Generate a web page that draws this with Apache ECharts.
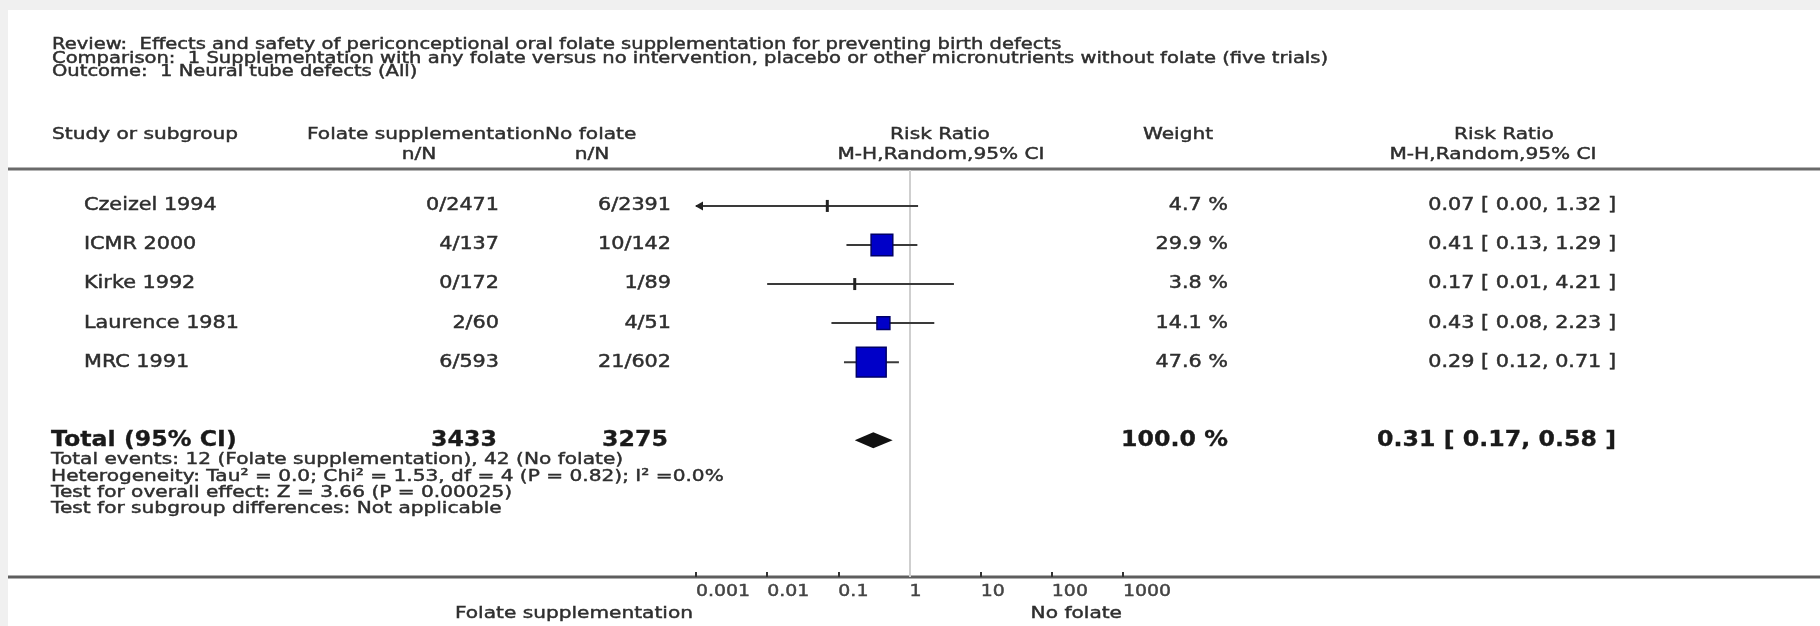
<!DOCTYPE html>
<html><head><meta charset="utf-8">
<script src="https://cdn.jsdelivr.net/npm/echarts@6/dist/echarts.min.js"></script>
<style>
html,body{margin:0;padding:0;background:#f0f0f0;width:1820px;height:626px;overflow:hidden}
#panel{position:absolute;left:8px;top:10px;width:1812px;height:616px;background:#fff}
#chart{position:absolute;left:0;top:0;width:1820px;height:626px}
</style></head><body>
<div id="panel"></div><div id="chart"></div>
<script>
// ---------- data ----------
const studies = ['Czeizel 1994', 'ICMR 2000', 'Kirke 1992', 'Laurence 1981', 'MRC 1991'];
const folateNN = ['0/2471', '4/137', '0/172', '2/60', '6/593'];
const noFolateNN = ['6/2391', '10/142', '1/89', '4/51', '21/602'];
const riskRatio = [0.07, 0.41, 0.17, 0.43, 0.29];
const ciLower = [0.00, 0.13, 0.01, 0.08, 0.12];
const ciUpper = [1.32, 1.29, 4.21, 2.23, 0.71];
const weights = [4.7, 29.9, 3.8, 14.1, 47.6];
const totalLabel = ['Total (95% CI)'];
const totalN = [3433, 3275];
const totalEffect = [0.31, 0.17, 0.58];
const totalWeight = [100.0];
const tickValues = [0.001, 0.01, 0.1, 1, 10, 100, 1000];
const tickLabels = ['0.001', '0.01', '0.1', '1', '10', '100', '1000'];
const titleLines = [
  'Review:  Effects and safety of periconceptional oral folate supplementation for preventing birth defects',
  'Comparison:  1 Supplementation with any folate versus no intervention, placebo or other micronutrients without folate (five trials)',
  'Outcome:  1 Neural tube defects (All)'
];
const footLines = [
  'Total events: 12 (Folate supplementation), 42 (No folate)',
  'Heterogeneity: Tau\u00b2 = 0.0; Chi\u00b2 = 1.53, df = 4 (P = 0.82); I\u00b2 =0.0%',
  'Test for overall effect: Z = 3.66 (P = 0.00025)',
  'Test for subgroup differences: Not applicable'
];
const leftFavour = 'Folate supplementation';
const rightFavour = 'No folate';

// ---------- layout / style ----------
const SX = 1.22;
const FONT = '"DejaVu Sans", Verdana, sans-serif';
const TXT = '#2e2e2e';
const TOTAL_ROW = 6;
function T(x, y, text, o) {
  o = o || {};
  const fill = o.fill || TXT;
  return {
    type: 'text', x: x, y: y, scaleX: o.sx || SX, silent: true,
    style: {
      text: text, fill: fill, stroke: fill, lineWidth: o.bold ? 0.3 : 0.45,
      fontSize: o.size || 17, fontFamily: FONT,
      fontWeight: o.bold ? 'bold' : 'normal', align: o.align || 'left', verticalAlign: 'middle'
    }
  };
}
const fmt2 = v => v.toFixed(2);
const rrText = (r, l, h) => fmt2(r) + ' [ ' + fmt2(l) + ', ' + fmt2(h) + ' ]';

const chart = echarts.init(document.getElementById('chart'));

const HS = 16.5;
const graphics = [];
titleLines.forEach((t, i) => graphics.push(T(52, 45 + i * 13.5, t, {size: 16})));
graphics.push(T(52, 135, 'Study or subgroup', {size: HS}));
graphics.push(T(307, 135, 'Folate supplementation', {size: HS}));
graphics.push(T(545, 135, 'No folate', {size: HS}));
graphics.push(T(940, 135, 'Risk Ratio', {size: HS, align: 'center'}));
graphics.push(T(1178, 135, 'Weight', {size: HS, align: 'center'}));
graphics.push(T(1504, 135, 'Risk Ratio', {size: HS, align: 'center'}));
graphics.push(T(419, 155, 'n/N', {size: HS, align: 'center'}));
graphics.push(T(592, 155, 'n/N', {size: HS, align: 'center'}));
graphics.push(T(941, 155, 'M-H,Random,95% CI', {size: HS, align: 'center'}));
graphics.push(T(1493, 155, 'M-H,Random,95% CI', {size: HS, align: 'center'}));
footLines.forEach((t, i) => graphics.push(T(51, 460 + i * 16.4, t, {size: HS})));
graphics.push(T(693, 614, leftFavour, {size: HS, align: 'right'}));
graphics.push(T(1122, 614, rightFavour, {size: HS, align: 'right'}));
graphics.push({type: 'line', silent: true, shape: {x1: 8, y1: 169, x2: 1820, y2: 169}, style: {stroke: '#6a6a6a', lineWidth: 3}});
graphics.push({type: 'line', silent: true, shape: {x1: 8, y1: 577, x2: 1820, y2: 577}, style: {stroke: '#5e5e5e', lineWidth: 3}});

function renderStudy(params, api) {
  const row = api.value(0), rr = api.value(1), lo = api.value(2), hi = api.value(3), w = api.value(4);
  const axisMin = tickValues[0];
  const clipped = lo < axisMin;
  const pL = api.coord([clipped ? axisMin : lo, row]);
  const pH = api.coord([hi, row]);
  const pC = api.coord([rr, row]);
  const children = [{type: 'line', shape: {x1: pL[0], y1: pL[1], x2: pH[0], y2: pH[1]}, style: {stroke: '#3a3a3a', lineWidth: 2}}];
  if (clipped) {
    children.push({type: 'polygon', shape: {points: [[pL[0] - 1, pL[1]], [pL[0] + 7, pL[1] - 4.5], [pL[0] + 7, pL[1] + 4.5]]}, style: {fill: '#222'}});
  }
  const side = 2.1 * Math.pow(w, 0.687);
  if (side < 8) {
    children.push({type: 'rect', shape: {x: pC[0] - 1.5, y: pC[1] - 6, width: 3, height: 12}, style: {fill: '#222'}});
  } else {
    children.push({type: 'rect', shape: {x: pC[0] - side / 2, y: pC[1] - side / 2, width: side, height: side}, style: {fill: '#0000c8', stroke: '#000066', lineWidth: 1.5}});
  }
  return {type: 'group', children: children};
}

function renderTotal(params, api) {
  const row = api.value(0);
  const pC = api.coord([api.value(1), row]);
  const pL = api.coord([api.value(2), row]);
  const pH = api.coord([api.value(3), row]);
  return {type: 'polygon', shape: {points: [[pL[0], pC[1]], [pC[0], pC[1] - 8], [pH[0], pC[1]], [pC[0], pC[1] + 8]]}, style: {fill: '#111'}};
}

function renderStudyText(params, api) {
  const i = params.dataIndex;
  const y = api.coord([1, api.value(0)])[1];
  return {type: 'group', children: [
    T(84, y, studies[i]),
    T(499, y, folateNN[i], {align: 'right'}),
    T(671, y, noFolateNN[i], {align: 'right'}),
    T(1228, y, weights[i].toFixed(1) + ' %', {align: 'right'}),
    T(1616, y, rrText(riskRatio[i], ciLower[i], ciUpper[i]), {align: 'right'})
  ]};
}

function renderTotalText(params, api) {
  const y = api.coord([1, api.value(0)])[1];
  const o = {size: 20.6, sx: 1.15, bold: true, fill: '#1a1a1a'};
  return {type: 'group', children: [
    T(51, y, totalLabel[0], o),
    T(497, y, String(totalN[0]), Object.assign({align: 'right'}, o)),
    T(668, y, String(totalN[1]), Object.assign({align: 'right'}, o)),
    T(1228, y, totalWeight[0].toFixed(1) + ' %', Object.assign({align: 'right'}, o)),
    T(1616, y, rrText(totalEffect[0], totalEffect[1], totalEffect[2]), Object.assign({align: 'right'}, o))
  ]};
}

const Y_MIN = -0.92, Y_MAX = 9.50;
function renderTickLabel(params, api) {
  const p = api.coord([api.value(0), Y_MAX]);
  return T(p[0], p[1] + 15, tickLabels[params.dataIndex], {size: 15.5, fill: '#444'});
}

const studyData = studies.map((s, i) => [i, riskRatio[i], ciLower[i], ciUpper[i], weights[i]]);

chart.setOption({
  backgroundColor: 'transparent',
  animation: false,
  graphic: {elements: graphics},
  grid: {left: 696, right: 697, top: 170, bottom: 49},
  xAxis: {
    type: 'log', logBase: 10, min: 0.001, max: 1000,
    axisLine: {show: false, onZero: false},
    axisTick: {show: true, inside: true, length: 5, lineStyle: {color: '#333', width: 2}},
    axisLabel: {show: false},
    splitLine: {show: false}
  },
  yAxis: {type: 'value', inverse: true, min: Y_MIN, max: Y_MAX, show: false, splitLine: {show: false}},
  series: [
    {
      type: 'custom', name: 'studies', renderItem: renderStudy, clip: false,
      encode: {x: 1, y: 0}, data: studyData, z: 5,
      markLine: {silent: true, symbol: 'none', label: {show: false},
        lineStyle: {color: '#cfcfcf', width: 2, type: 'solid'}, data: [{xAxis: 1}]}
    },
    {
      type: 'custom', name: 'total', renderItem: renderTotal, clip: false,
      encode: {x: 1, y: 0}, data: [[TOTAL_ROW, totalEffect[0], totalEffect[1], totalEffect[2]]], z: 5
    },
    {
      type: 'custom', name: 'studyText', renderItem: renderStudyText, clip: false,
      encode: {y: 0}, data: studies.map((s, i) => [i]), silent: true
    },
    {
      type: 'custom', name: 'totalText', renderItem: renderTotalText, clip: false,
      encode: {y: 0}, data: [[TOTAL_ROW]], silent: true
    },
    {
      type: 'custom', name: 'tickLabels', renderItem: renderTickLabel, clip: false,
      encode: {x: 0}, data: tickValues.map(v => [v]), silent: true
    }
  ]
});
</script>
</body></html>
